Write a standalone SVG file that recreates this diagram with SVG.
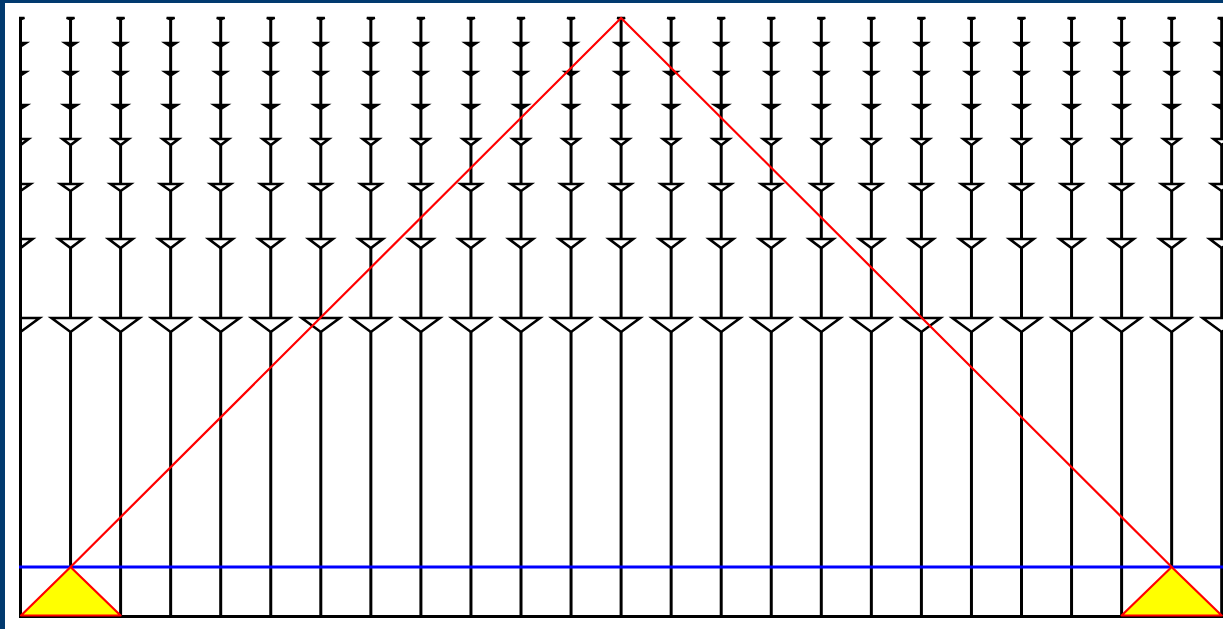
<svg xmlns="http://www.w3.org/2000/svg" xmlns:xlink="http://www.w3.org/1999/xlink" width="1223" height="629" viewBox="0 0 1223 629">
<style>
.vl{stroke:#000;stroke-width:3;fill:none}
.mk{stroke:#000;stroke-width:2.6;fill:#fff;stroke-linejoin:miter}
.mks{stroke:#000;stroke-width:2.4;fill:#000;stroke-linejoin:miter}
.red{stroke:#f00;stroke-width:2.2;fill:none}
.blue{stroke:#00f;stroke-width:3}
.base{stroke:#000;stroke-width:3}
.yel{fill:#ff0;stroke:#f00;stroke-width:2.2;stroke-linejoin:round}
</style>
<defs>
<clipPath id="clip"><rect x="19" y="0" width="1204" height="629"/></clipPath>
<g id="col">
<line class="vl" x1="0" y1="18" x2="0" y2="617"/>
<polygon class="mks" points="-4,18 4,18 0,19.5"/>
<polygon class="mks" points="-5.5,43 5.5,43 0,46.5"/>
<polygon class="mks" points="-5.5,72 5.5,72 0,75.5"/>
<polygon class="mks" points="-6.5,105 6.5,105 0,109"/>
<polygon class="mk" points="-8,139 8,139 0,145"/>
<polygon class="mk" points="-10,184 10,184 0,191"/>
<polygon class="mk" points="-12,239 12,239 0,248"/>
<polygon class="mk" points="-19,318 19,318 0,332"/>
</g>
</defs>
<rect width="1223" height="629" fill="#fff"/>
<g id="columns" clip-path="url(#clip)">
<use xlink:href="#col" x="20.5"/>
<use xlink:href="#col" x="70.55"/>
<use xlink:href="#col" x="120.6"/>
<use xlink:href="#col" x="170.65"/>
<use xlink:href="#col" x="220.7"/>
<use xlink:href="#col" x="270.75"/>
<use xlink:href="#col" x="320.8"/>
<use xlink:href="#col" x="370.85"/>
<use xlink:href="#col" x="420.9"/>
<use xlink:href="#col" x="470.95"/>
<use xlink:href="#col" x="521"/>
<use xlink:href="#col" x="571.05"/>
<use xlink:href="#col" x="621.1"/>
<use xlink:href="#col" x="671.15"/>
<use xlink:href="#col" x="721.2"/>
<use xlink:href="#col" x="771.25"/>
<use xlink:href="#col" x="821.3"/>
<use xlink:href="#col" x="871.35"/>
<use xlink:href="#col" x="921.4"/>
<use xlink:href="#col" x="971.45"/>
<use xlink:href="#col" x="1021.5"/>
<use xlink:href="#col" x="1071.55"/>
<use xlink:href="#col" x="1121.6"/>
<use xlink:href="#col" x="1171.65"/>
<use xlink:href="#col" x="1221.7"/>
<line class="vl" x1="20.5" y1="18" x2="20.5" y2="617"/>
</g>
<g id="connectors" clip-path="url(#clip)">
<line class="base" x1="19" y1="616.5" x2="1223" y2="616.5"/>
<line class="blue" x1="19" y1="567" x2="1223" y2="567"/>
<polyline class="red" points="70.55,567 621.1,18 1171.65,567"/>
</g>
<g id="supportL">
<polygon class="yel" points="21,615.5 70.55,567 120.6,615.5"/>
</g>
<g id="supportR">
<polygon class="yel" points="1121.6,615.5 1171.65,567 1221.7,615.5"/>
</g>
<g id="frame" fill="#013a6f">
<rect x="0" y="0" width="5" height="629"/>
<rect x="0" y="0" width="1223" height="3"/>
</g>
</svg>
